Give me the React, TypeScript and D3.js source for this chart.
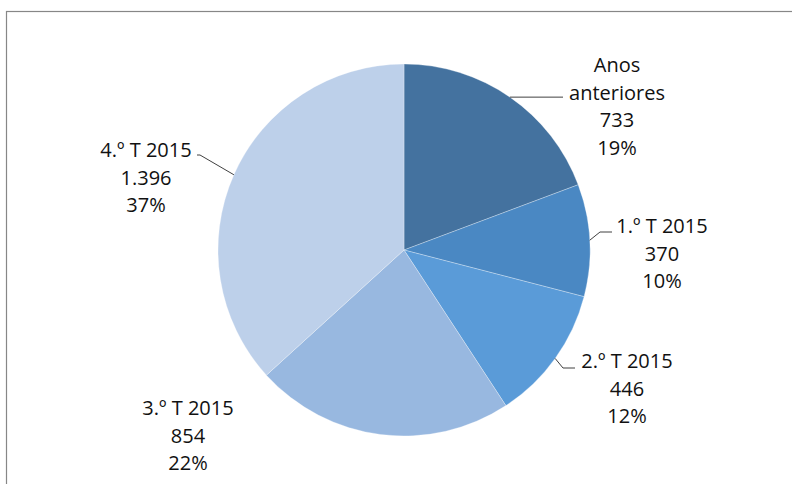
import React from 'react'
import * as d3 from 'd3'

// Data
const categories = ['Anos anteriores', '1.º T 2015', '2.º T 2015', '3.º T 2015', '4.º T 2015']
const values = [733, 370, 446, 854, 1396]
const valueLabels = ['733', '370', '446', '854', '1.396']
const percentLabels = ['19%', '10%', '12%', '22%', '37%']
const colors = ['#44729F', '#4A88C3', '#5A9BD8', '#98B8E0', '#BDD0EA']

// label layout: text centre x, first baseline y, leader elbow + end points
const labelLayout = [
  { lines: ['Anos', 'anteriores'], x: 617, y: 72, leader: [[563, null]] },
  { lines: ['1.º T 2015'], x: 662, y: 233, leader: [[600, 232], [612, 232]] },
  { lines: ['2.º T 2015'], x: 627, y: 368, leader: [[563, 368], [575, 368]] },
  { lines: ['3.º T 2015'], x: 188, y: 415, leader: [] },
  { lines: ['4.º T 2015'], x: 146, y: 157, leader: [[200, 155], [197, 155]] },
]

export default function App() {
  const width = 792
  const height = 484
  const cx = 404
  const cy = 250
  const radius = 186
  const lineH = 27.5

  const pie = d3.pie<number>().sort(null).value(d => d)
  const arcs = pie(values)
  const arc = d3.arc<d3.PieArcDatum<number>>().innerRadius(0).outerRadius(radius)

  return (
    <svg
      width={width}
      height={height}
      style={{ position: 'absolute', left: 0, top: 0, background: '#fff' }}
      fontFamily="'Open Sans', sans-serif"
    >
      <rect x={6.5} y={11.5} width={900} height={600} fill="#fff" stroke="#878787" strokeWidth={1.2} />
      <g transform={`translate(${cx},${cy})`}>
        {arcs.map((a, i) => (
          <path key={categories[i]} d={arc(a) || ''} fill={colors[i]} stroke="#fff" strokeWidth={0.3} />
        ))}
      </g>
      {arcs.map((a, i) => {
        const lay = labelLayout[i]
        if (!lay.leader.length) return null
        const mid = (a.startAngle + a.endAngle) / 2
        const p0 = [cx + radius * Math.sin(mid), cy - radius * Math.cos(mid)]
        const pts = [p0, ...lay.leader.map(([x, y]) => [x, y === null ? p0[1] : y])]
        return (
          <path
            key={'l' + i}
            d={d3.line()(pts as [number, number][]) || ''}
            fill="none"
            stroke="#404040"
            strokeWidth={1}
          />
        )
      })}
      {arcs.map((a, i) => {
        const lay = labelLayout[i]
        const lines = [...lay.lines, valueLabels[i], percentLabels[i]]
        return (
          <text key={'t' + i} x={lay.x} y={lay.y} textAnchor="middle" fontSize={20} fill="#111">
            {lines.map((t, j) => (
              <tspan key={j} x={lay.x} y={lay.y + j * lineH}>{t}</tspan>
            ))}
          </text>
        )
      })}
    </svg>
  )
}
